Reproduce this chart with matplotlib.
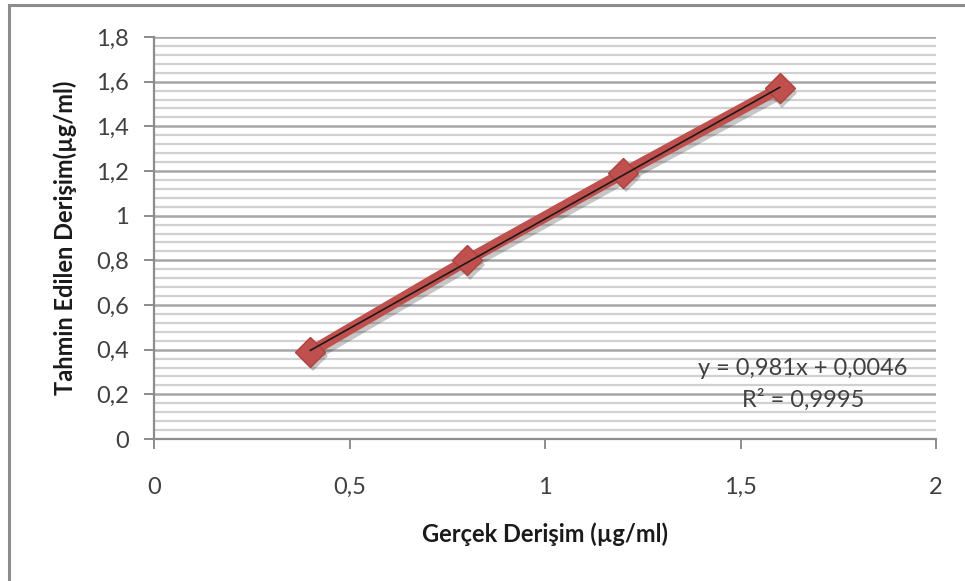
import matplotlib
matplotlib.use("Agg")
import matplotlib.pyplot as plt
from matplotlib.patches import Rectangle
from matplotlib.ticker import MultipleLocator, FuncFormatter
from matplotlib.transforms import ScaledTranslation
import numpy as np

plt.rcParams['font.family'] = ['Lato', 'DejaVu Sans']

# gerçek ve tahmin edilen derişimler (µg/ml)
gercek = [0.4, 0.8, 1.2, 1.6]
tahmin = [0.39, 0.80, 1.19, 1.57]
egim = 0.981
kesim = 0.0046
r2 = 0.9995

red = '#c0504d'
txt = '#404040'


def virgullu(v):
    return ('%g' % round(v, 4)).replace('.', ',')


fig = plt.figure(figsize=(9.65, 5.81), dpi=100)
ax = fig.add_axes([0.1596, 0.2444, 0.8104, 0.6919])

# outer chart frame (only left and top edges show)
fig.patches.append(Rectangle((9 / 965, -0.05), 1.2, 1 - 5 / 581 + 0.05,
                             transform=fig.transFigure, fill=False,
                             edgecolor='#8c8c8c', linewidth=2.2, zorder=0))

ax.set_xlim(0, 2)
ax.set_ylim(0, 1.8)
ax.xaxis.set_major_locator(MultipleLocator(0.5))
ax.yaxis.set_major_locator(MultipleLocator(0.2))
ax.yaxis.set_minor_locator(MultipleLocator(0.04))

fmt = FuncFormatter(lambda v, p: virgullu(v))
ax.xaxis.set_major_formatter(fmt)
ax.yaxis.set_major_formatter(fmt)

ax.grid(axis='y', which='minor', color='#d0d0d0', linewidth=1.6)
ax.grid(axis='y', which='major', color='#a6a6a6', linewidth=1.8)
ax.set_axisbelow(True)

for s in ['top', 'right']:
    ax.spines[s].set_visible(False)
for s in ['left', 'bottom']:
    ax.spines[s].set_color('#8c8c8c')
    ax.spines[s].set_linewidth(1.6)

ax.tick_params(axis='y', which='major', direction='out', length=7, width=1.4,
               color='#8c8c8c', labelsize=17, labelcolor=txt, pad=11)
ax.tick_params(axis='y', which='minor', length=0)
ax.tick_params(axis='x', direction='out', length=7, width=1.4,
               color='#8c8c8c', labelsize=17, labelcolor=txt, pad=20)

# gölge: seriyi biraz kaydırıp koyu ve saydam çiz
golge = ax.transData + ScaledTranslation(2 / 72, -3 / 72, fig.dpi_scale_trans)
ax.plot(gercek, tahmin, color='#202020', alpha=0.25, linewidth=8,
        marker='D', markersize=15, markeredgewidth=0, transform=golge, zorder=2)

# veri serisi: kalın kırmızı çizgi ve baklava işaretler
ax.plot(gercek, tahmin, color=red, linewidth=8, solid_capstyle='round',
        marker='D', markersize=15, markerfacecolor=red, markeredgecolor='#b3403d',
        markeredgewidth=1, zorder=3)

# doğrusal eğilim çizgisi
xt = np.array([gercek[0], gercek[-1]])
ax.plot(xt, egim * xt + kesim, color='#1a1a1a', linewidth=1.2, zorder=4)

ax.text(1.66, 0.315, 'y = %sx + %s' % (virgullu(egim), virgullu(kesim)),
        ha='center', va='center', fontsize=17, color=txt)
ax.text(1.66, 0.175, 'R² = ' + virgullu(r2),
        ha='center', va='center', fontsize=17, color=txt)

ax.set_xlabel('Gerçek Derişim (µg/ml)', fontsize=17, fontweight='bold',
              color='#1a1a1a', labelpad=18)
ax.set_ylabel('Tahmin Edilen Derişim(µg/ml)', fontsize=17, fontweight='bold',
              color='#1a1a1a', labelpad=14)

fig.savefig('out.png', dpi=100)
